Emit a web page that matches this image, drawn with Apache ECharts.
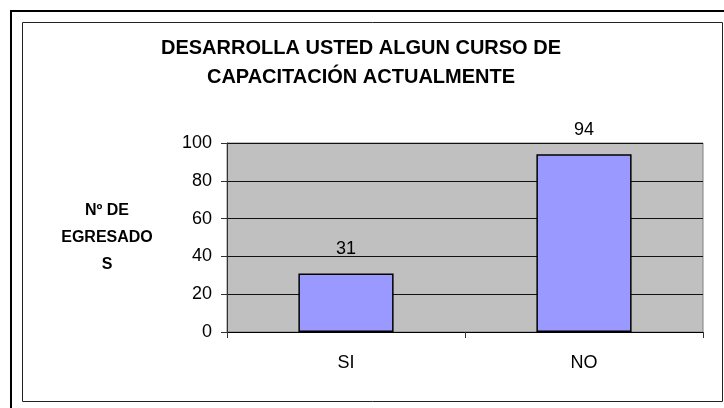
<!DOCTYPE html>
<html>
<head>
<meta charset="utf-8">
<script src="https://cdn.jsdelivr.net/npm/echarts@6/dist/echarts.min.js"></script>
<style>
  html, body { margin: 0; padding: 0; background: #fff; }
  #main { width: 724px; height: 408px; }
</style>
</head>
<body>
<div id="main"></div>
<script>
var categories = ['SI', 'NO'];
var egresados = [31, 94];
var yTicks = [0, 20, 40, 60, 80, 100];

var font = "'Liberation Sans', Arial, sans-serif";
var chart = echarts.init(document.getElementById('main'));

var option = {
  backgroundColor: '#fff',
  animation: false,
  title: {
    text: 'DESARROLLA USTED ALGUN CURSO DE\nCAPACITACIÓN ACTUALMENTE',
    left: 356,
    top: 29,
    textAlign: 'center',
    textStyle: {
      fontFamily: font,
      fontSize: 20,
      fontWeight: 'bold',
      color: '#000',
      lineHeight: 29
    }
  },
  graphic: [
    // marcos exteriores como en la hoja de excel
    { type: 'rect', shape: { x: 11, y: 11, width: 730, height: 410 },
      style: { fill: 'none', stroke: '#000', lineWidth: 2 }, silent: true },
    { type: 'rect', shape: { x: 22.5, y: 22.5, width: 700, height: 379 },
      style: { fill: 'none', stroke: '#222', lineWidth: 1 }, silent: true }
  ],
  grid: {
    left: 227,
    right: 21,
    top: 143,
    bottom: 76,
    show: true,
    backgroundColor: '#C0C0C0',
    borderColor: '#808080',
    borderWidth: 1
  },
  xAxis: {
    type: 'category',
    data: categories,
    axisLine: { lineStyle: { color: '#000', width: 1 } },
    axisTick: { show: true, length: 6, lineStyle: { color: '#333' } },
    axisLabel: { color: '#000', fontFamily: font, fontSize: 18, margin: 22 }
  },
  yAxis: {
    type: 'value',
    min: yTicks[0],
    max: yTicks[yTicks.length - 1],
    interval: 20,
    name: 'Nº DE\nEGRESADO\nS',
    nameLocation: 'middle',
    nameRotate: 0,
    nameGap: 120,
    nameTextStyle: {
      color: '#000',
      fontFamily: font,
      fontSize: 16,
      fontWeight: 'bold',
      lineHeight: 27,
      align: 'center',
      verticalAlign: 'middle'
    },
    axisLine: { show: true, lineStyle: { color: '#333', width: 1 } },
    axisTick: { show: true, length: 6, lineStyle: { color: '#333' } },
    axisLabel: { color: '#000', fontFamily: font, fontSize: 18, margin: 15 },
    splitLine: { show: true, lineStyle: { color: '#111', width: 1 } }
  },
  series: [
    {
      type: 'bar',
      data: egresados,
      barWidth: '40%',
      itemStyle: { color: '#9999FF', borderColor: '#000', borderWidth: 1.5 },
      label: {
        show: true,
        position: 'top',
        distance: 15,
        color: '#000',
        fontFamily: font,
        fontSize: 18
      }
    }
  ]
};

chart.setOption(option);
</script>
</body>
</html>
